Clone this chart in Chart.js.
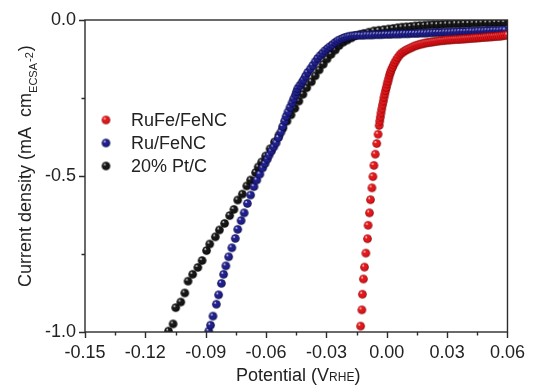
<!DOCTYPE html>
<html>
<head>
<meta charset="utf-8">
<script src="https://cdn.jsdelivr.net/npm/chart.js@4/dist/chart.umd.min.js"></script>
<style>
  html, body { margin: 0; padding: 0; background: #ffffff; }
  canvas { display: block; }
</style>
</head>
<body>
<canvas id="lsv" width="535" height="387"></canvas>
<script>
// HER polarisation curves (current normalised to ECSA) for three catalysts
const seriesNames = ['RuFe/FeNC', 'Ru/FeNC', '20% Pt/C'];
const seriesColors = ['#e3161b', '#1f1f8f', '#161616'];
const seriesShades = ['#7a0000', '#05052e', '#000000'];

// RuFe/FeNC
const rufePotential = [
  -0.0130, -0.0124, -0.0121, -0.0116, -0.0111, -0.0104, -0.0096, -0.0093, -0.0086, -0.0081,
  -0.0074, -0.0069, -0.0064, -0.0057, -0.0050, -0.0043,
  -0.0038, -0.0035, -0.0032, -0.0029, -0.0025, -0.0021, -0.0017, -0.0014, -0.0010, -0.0006,
  -0.0002, 0.0002, 0.0006, 0.0010, 0.0014, 0.0018, 0.0022, 0.0028, 0.0034, 0.0040,
  0.0047, 0.0055, 0.0064, 0.0073, 0.0083, 0.0092,
  0.010, 0.011, 0.012, 0.013, 0.014, 0.015, 0.016, 0.017, 0.018, 0.019,
  0.020, 0.021, 0.022, 0.023, 0.024, 0.025, 0.026, 0.027, 0.028, 0.029,
  0.030, 0.031, 0.032, 0.033, 0.034, 0.035, 0.036, 0.037, 0.038, 0.039,
  0.040, 0.041, 0.042, 0.043, 0.044, 0.045, 0.046, 0.047, 0.048, 0.049,
  0.050, 0.051, 0.052, 0.053, 0.054, 0.055, 0.056, 0.057, 0.058, 0.059, 0.060
];
const rufeCurrent = [
  -0.981, -0.929, -0.879, -0.830, -0.792, -0.747, -0.701, -0.658, -0.618, -0.576,
  -0.538, -0.502, -0.466, -0.430, -0.396, -0.366,
  -0.338, -0.324, -0.311, -0.298, -0.285, -0.272, -0.260, -0.248, -0.237, -0.226,
  -0.216, -0.205, -0.196, -0.186, -0.176, -0.168, -0.160, -0.152, -0.144, -0.136,
  -0.128, -0.120, -0.112, -0.106, -0.102, -0.098,
  -0.095, -0.092, -0.089, -0.086, -0.083, -0.081, -0.079, -0.077, -0.076, -0.074,
  -0.073, -0.072, -0.071, -0.070, -0.069, -0.068, -0.067, -0.066, -0.066, -0.065,
  -0.064, -0.064, -0.063, -0.063, -0.062, -0.062, -0.062, -0.061, -0.061, -0.060,
  -0.060, -0.059, -0.059, -0.058, -0.058, -0.057, -0.057, -0.056, -0.056, -0.055,
  -0.055, -0.054, -0.054, -0.053, -0.053, -0.052, -0.052, -0.051, -0.050, -0.049, -0.048
];

// Ru/FeNC
const ruPotential = [
  -0.0885, -0.0876, -0.0864, -0.0847, -0.0836, -0.0822, -0.0811, -0.0800, -0.0786, -0.0770,
  -0.0753, -0.0741, -0.0724, -0.0709, -0.0693, -0.0677, -0.0660, -0.0646, -0.0631, -0.0617,
  -0.0605, -0.0594, -0.0585, -0.0573, -0.0562, -0.0550, -0.0538, -0.0526, -0.0517, -0.0508,
  -0.0500, -0.0491, -0.0481, -0.0471, -0.0463, -0.0454, -0.0448, -0.0442, -0.0432, -0.0422,
  -0.0414, -0.0404, -0.0393, -0.0380, -0.0368, -0.0356, -0.0344, -0.0331, -0.0319, -0.0307,
  -0.0294, -0.0282, -0.0270, -0.0257, -0.0245, -0.0233, -0.0220, -0.0208, -0.0196, -0.0184,
  -0.0171, -0.0159, -0.0147,
  -0.0132, -0.0117, -0.0102, -0.0087, -0.0072, -0.0057, -0.0042, -0.0027, -0.0012, 0.0003,
  0.0018, 0.0033, 0.0048, 0.0063, 0.0078, 0.0093, 0.0108, 0.0123, 0.0138, 0.0153,
  0.0168, 0.0183, 0.0198, 0.0213, 0.0228, 0.0243, 0.0258, 0.0273, 0.0288, 0.0303,
  0.0318, 0.0333, 0.0348, 0.0363, 0.0378, 0.0393, 0.0408, 0.0423, 0.0438, 0.0453,
  0.0468, 0.0483, 0.0498, 0.0513, 0.0528, 0.0543, 0.0558, 0.0573, 0.0588
];
const ruCurrent = [
  -0.997, -0.978, -0.949, -0.911, -0.881, -0.844, -0.815, -0.788, -0.759, -0.730,
  -0.700, -0.671, -0.643, -0.618, -0.588, -0.561, -0.534, -0.513, -0.494, -0.474,
  -0.460, -0.446, -0.433, -0.420, -0.407, -0.394, -0.377, -0.359, -0.341, -0.324,
  -0.309, -0.295, -0.280, -0.266, -0.253, -0.240, -0.229, -0.219, -0.210, -0.201,
  -0.192, -0.180, -0.168, -0.157, -0.146, -0.134, -0.123, -0.114, -0.106, -0.098,
  -0.091, -0.085, -0.079, -0.072, -0.067, -0.063, -0.059, -0.056, -0.054, -0.052,
  -0.051, -0.050, -0.049,
  -0.049, -0.049, -0.048, -0.048, -0.048, -0.047, -0.047, -0.047, -0.046, -0.046,
  -0.046, -0.045, -0.045, -0.045, -0.044, -0.044, -0.044, -0.043, -0.043, -0.043,
  -0.042, -0.042, -0.042, -0.041, -0.041, -0.040, -0.040, -0.040, -0.039, -0.039,
  -0.039, -0.038, -0.038, -0.037, -0.037, -0.037, -0.036, -0.036, -0.036, -0.035,
  -0.035, -0.035, -0.034, -0.034, -0.033, -0.033, -0.033, -0.032, -0.032
];

// 20% Pt/C
const ptPotential = [
  -0.1085, -0.1062, -0.1049, -0.1024, -0.1004, -0.0988, -0.0965, -0.0939, -0.0918, -0.0896,
  -0.0880, -0.0852, -0.0832, -0.0806, -0.0781, -0.0760, -0.0741, -0.0718, -0.0696, -0.0677,
  -0.0652, -0.0639, -0.0622, -0.0602, -0.0580, -0.0558, -0.0536, -0.0517, -0.0496, -0.0476,
  -0.0457, -0.0437, -0.0417, -0.0398, -0.0375, -0.0356, -0.0336, -0.0316, -0.0297, -0.0277,
  -0.0256, -0.0237, -0.0216, -0.0196, -0.0175, -0.0155, -0.0133, -0.0114, -0.0089, -0.0064,
  -0.0040, -0.0015, 0.0008, 0.0031, 0.0053, 0.0075, 0.0097, 0.0119, 0.0141, 0.0163,
  0.0186, 0.0208, 0.0230, 0.0252, 0.0274, 0.0296, 0.0318, 0.0341, 0.0363, 0.0385,
  0.0407, 0.0429, 0.0451, 0.0473, 0.0496, 0.0518, 0.0540, 0.0562, 0.0584
];
const ptCurrent = [
  -0.997, -0.974, -0.922, -0.904, -0.875, -0.837, -0.815, -0.793, -0.771, -0.739,
  -0.718, -0.695, -0.673, -0.652, -0.627, -0.607, -0.577, -0.558, -0.532, -0.513,
  -0.489, -0.471, -0.455, -0.436, -0.413, -0.391, -0.369, -0.347, -0.324, -0.304,
  -0.283, -0.260, -0.238, -0.217, -0.198, -0.179, -0.160, -0.142, -0.125, -0.110,
  -0.096, -0.082, -0.071, -0.064, -0.057, -0.050, -0.046, -0.043, -0.039, -0.035,
  -0.033, -0.031, -0.029, -0.027, -0.025, -0.023, -0.022, -0.021, -0.019, -0.018,
  -0.017, -0.016, -0.015, -0.015, -0.014, -0.013, -0.013, -0.012, -0.012, -0.011,
  -0.011, -0.010, -0.010, -0.009, -0.009, -0.009, -0.008, -0.008, -0.008
];

// Axis ticks
const potentialTicks = [-0.15, -0.12, -0.09, -0.06, -0.03, 0.00, 0.03, 0.06];
const potentialMinorTicks = [-0.135, -0.105, -0.075, -0.045, -0.015, 0.015, 0.045];
const currentTicks = [-1.0, -0.5, 0.0];
const currentMinorTicks = [-0.75, -0.25];

const FONT = "'Liberation Sans', Arial, Helvetica, sans-serif";

// Shaded ball marker
function makeBall(color, shade, r) {
  const size = Math.ceil(r * 2) + 2;
  const c = document.createElement('canvas');
  c.width = size; c.height = size;
  const g = c.getContext('2d');
  const cx = size / 2, cy = size / 2;
  const grad = g.createRadialGradient(cx - r * 0.35, cy - r * 0.4, r * 0.05, cx, cy, r);
  grad.addColorStop(0, '#ffffff');
  grad.addColorStop(0.28, color);
  grad.addColorStop(0.75, color);
  grad.addColorStop(1, shade);
  g.fillStyle = grad;
  g.beginPath();
  g.arc(cx, cy, r, 0, Math.PI * 2);
  g.fill();
  return c;
}

const balls = seriesColors.map((c, i) => makeBall(c, seriesShades[i], 4.3));

function pairs(xs, ys) {
  return xs.map((v, i) => ({ x: v, y: ys[i] }));
}

const seriesData = [
  pairs(rufePotential, rufeCurrent),
  pairs(ruPotential, ruCurrent),
  pairs(ptPotential, ptCurrent)
];

const datasets = seriesNames.map((name, i) => ({
  label: name,
  data: seriesData[i],
  pointStyle: balls[i],
  pointRadius: 4.3,
  showLine: false,
  clip: 0
}));

// Frame, tick marks, axis titles and legend
const decorations = {
  id: 'decorations',
  afterDraw(chart) {
    const { ctx, chartArea: a, scales } = chart;
    const xs = scales.x, ys = scales.y;
    ctx.save();

    ctx.strokeStyle = '#2b2b2b';
    ctx.lineWidth = 1.4;
    ctx.strokeRect(a.left, a.top, a.right - a.left, a.bottom - a.top);

    ctx.beginPath();
    potentialTicks.forEach(v => {
      const px = Math.round(xs.getPixelForValue(v)) + 0.5;
      ctx.moveTo(px, a.bottom); ctx.lineTo(px, a.bottom + 6);
    });
    potentialMinorTicks.forEach(v => {
      const px = Math.round(xs.getPixelForValue(v)) + 0.5;
      ctx.moveTo(px, a.bottom); ctx.lineTo(px, a.bottom + 3.5);
    });
    currentTicks.forEach(v => {
      const py = Math.round(ys.getPixelForValue(v)) + 0.5;
      ctx.moveTo(a.left, py); ctx.lineTo(a.left - 6, py);
    });
    currentMinorTicks.forEach(v => {
      const py = Math.round(ys.getPixelForValue(v)) + 0.5;
      ctx.moveTo(a.left, py); ctx.lineTo(a.left - 3.5, py);
    });
    ctx.stroke();

    ctx.fillStyle = '#222222';
    ctx.textBaseline = 'alphabetic';
    ctx.textAlign = 'left';

    // x-axis title: Potential (V_RHE)
    const big = '18px ' + FONT, small = '12px ' + FONT;
    ctx.font = big;
    const p1 = 'Potential (V', p3 = ')';
    const w1 = ctx.measureText(p1).width, w3 = ctx.measureText(p3).width;
    ctx.font = small;
    const p2 = 'RHE';
    const w2 = ctx.measureText(p2).width;
    let tx = (a.left + a.right) / 2 + 2 - (w1 + w2 + w3) / 2;
    const ty = 381;
    ctx.font = big; ctx.fillText(p1, tx, ty); tx += w1;
    ctx.font = small; ctx.fillText(p2, tx, ty); tx += w2;
    ctx.font = big; ctx.fillText(p3, tx, ty);

    // y-axis title: Current density (mA cm_ECSA^-2)
    ctx.save();
    ctx.translate(31, 287);
    ctx.rotate(-Math.PI / 2);
    ctx.font = big;
    const q1 = 'Current density (mA  cm';
    ctx.fillText(q1, 0, 0);
    let qx = ctx.measureText(q1).width;
    ctx.font = '11px ' + FONT;
    ctx.fillText('ECSA', qx, 6);
    qx += ctx.measureText('ECSA').width + 1;
    ctx.fillText('-2', qx, 2);
    qx += ctx.measureText('-2').width + 1;
    ctx.font = big;
    ctx.fillText(')', qx, 0);
    ctx.restore();

    // legend
    ctx.font = big;
    ctx.textBaseline = 'middle';
    chart.data.datasets.forEach((ds, i) => {
      const cy = a.top + 100 + i * 23;
      const img = ds.pointStyle;
      ctx.drawImage(img, a.left + 21 - img.width / 2, cy - img.height / 2);
      ctx.fillText(ds.label, a.left + 46, cy + 1);
    });

    ctx.restore();
  }
};

Chart.defaults.font.family = FONT;
Chart.defaults.font.size = 18;
Chart.defaults.color = '#222222';

new Chart(document.getElementById('lsv'), {
  type: 'scatter',
  data: { datasets },
  options: {
    responsive: false,
    animation: false,
    devicePixelRatio: 1,
    layout: { padding: { left: 0, top: 20, right: 23, bottom: 0 } },
    plugins: {
      legend: { display: false },
      tooltip: { enabled: false }
    },
    scales: {
      x: {
        type: 'linear',
        min: -0.15,
        max: 0.06,
        grid: { display: false, drawTicks: false },
        border: { display: false },
        afterBuildTicks: s => { s.ticks = potentialTicks.map(v => ({ value: v })); },
        afterFit: s => { s.height = 55; },
        ticks: {
          padding: 10,
          maxRotation: 0,
          autoSkip: false,
          callback: v => (Math.abs(v) < 1e-9 ? 0 : v).toFixed(2)
        }
      },
      y: {
        type: 'linear',
        min: -1.0,
        max: 0.0,
        grid: { display: false, drawTicks: false },
        border: { display: false },
        afterBuildTicks: s => { s.ticks = currentTicks.map(v => ({ value: v })); },
        afterFit: s => { s.width = 85; },
        ticks: {
          padding: 9,
          autoSkip: false,
          callback: v => (Math.abs(v) < 1e-9 ? 0 : v).toFixed(1)
        }
      }
    }
  },
  plugins: [decorations]
});
</script>
</body>
</html>
